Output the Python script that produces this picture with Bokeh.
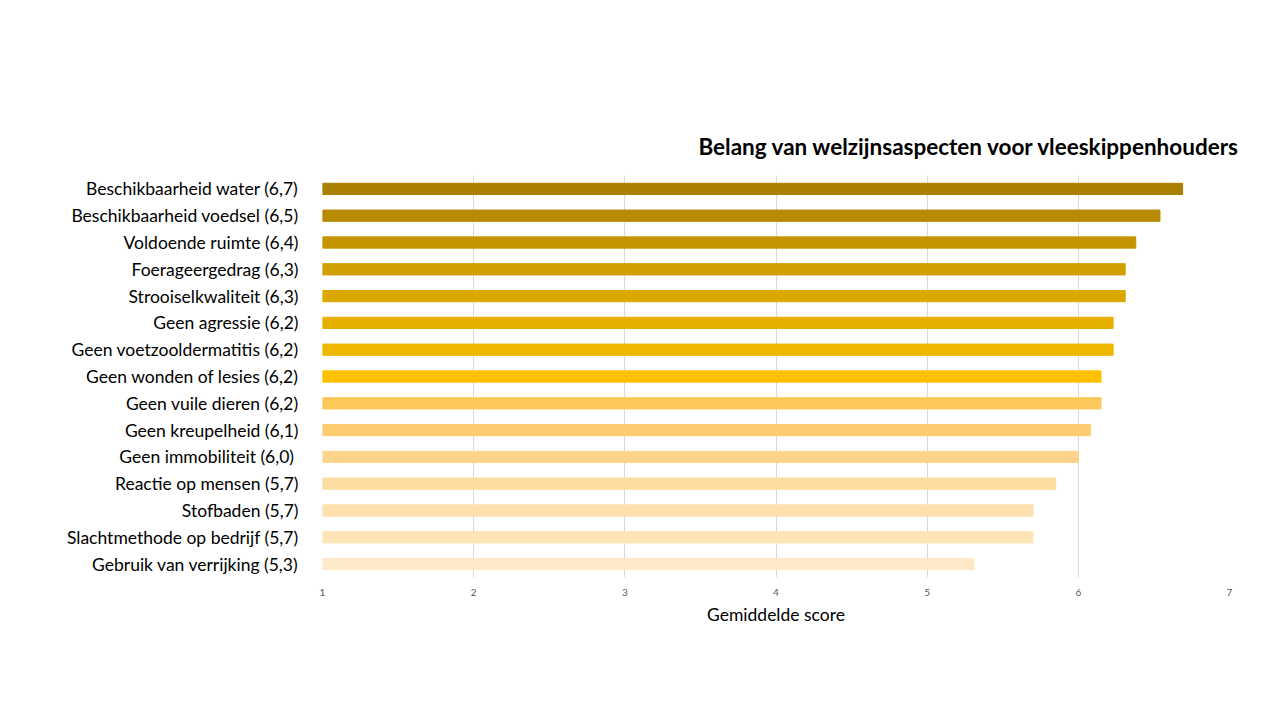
from bokeh.plotting import figure
from bokeh.models import ColumnDataSource, FixedTicker, Range1d
from bokeh.embed import file_html
from bokeh.resources import INLINE

labels = [
    "Beschikbaarheid water (6,7)",
    "Beschikbaarheid voedsel (6,5)",
    "Voldoende ruimte (6,4)",
    "Foerageergedrag (6,3)",
    "Strooiselkwaliteit (6,3)",
    "Geen agressie (6,2)",
    "Geen voetzooldermatitis (6,2)",
    "Geen wonden of lesies (6,2)",
    "Geen vuile dieren (6,2)",
    "Geen kreupelheid (6,1)",
    "Geen immobiliteit  (6,0)",
    "Reactie op mensen (5,7)",
    "Stofbaden (5,7)",
    "Slachtmethode op bedrijf (5,7)",
    "Gebruik van verrijking (5,3)",
]
scores = [6.69, 6.54, 6.38, 6.31, 6.31, 6.23, 6.23, 6.15, 6.15, 6.08, 6.0, 5.85, 5.70, 5.70, 5.31]
colors = ["#A98000", "#B88A00", "#C69400", "#D29F00", "#DBA800", "#E6B000", "#EFB800",
          "#FFC000", "#FDC75A", "#FDCC70", "#FDD48A", "#FDDCA0", "#FDE0AD", "#FDE5B8", "#FDE9C7"]
x_ticks = [1, 2, 3, 4, 5, 6, 7]

src = ColumnDataSource(dict(label=labels, score=scores, color=colors))

p = figure(width=1264, height=704, y_range=list(reversed(labels)),
           x_range=Range1d(1, 7), output_backend="svg", toolbar_location=None,
           min_border_left=322, min_border_right=35, min_border_top=175, min_border_bottom=127,
           title="Belang van welzijnsaspecten voor vleeskippenhouders")
p.hbar(y="label", left=1, right="score", height=0.42, color="color", source=src)

p.outline_line_color = None
p.ygrid.grid_line_color = None
p.xgrid.grid_line_color = "#D9D9D9"
p.xgrid.grid_line_width = 1

p.xaxis.ticker = FixedTicker(ticks=x_ticks)
p.xaxis.axis_line_color = None
p.xaxis.major_tick_line_color = None
p.xaxis.minor_tick_line_color = None
p.xaxis.major_label_text_font = "Lato"
p.xaxis.major_label_text_font_size = "10px"
p.xaxis.major_label_text_color = "#595959"
p.xaxis.major_label_standoff = 5
p.xaxis.axis_label = "Gemiddelde score"
p.xaxis.axis_label_text_font = "Lato"
p.xaxis.axis_label_text_font_size = "17.5px"
p.xaxis.axis_label_text_font_style = "normal"
p.xaxis.axis_label_text_color = "#000000"
p.xaxis.axis_label_standoff = 5

p.yaxis.axis_line_color = None
p.yaxis.major_tick_line_color = None
p.yaxis.minor_tick_line_color = None
p.yaxis.major_label_text_font = "Lato"
p.yaxis.major_label_text_font_size = "17.5px"
p.yaxis.major_label_text_color = "#000000"
p.yaxis.major_label_standoff = 18

p.title.align = "right"
p.title.text_font = "Lato"
p.title.text_font_size = "22.5px"
p.title.text_font_style = "bold"
p.title.text_color = "#000000"
p.title.offset = -11
p.title.standoff = 31

open("out.html", "w").write(file_html(p, INLINE))
